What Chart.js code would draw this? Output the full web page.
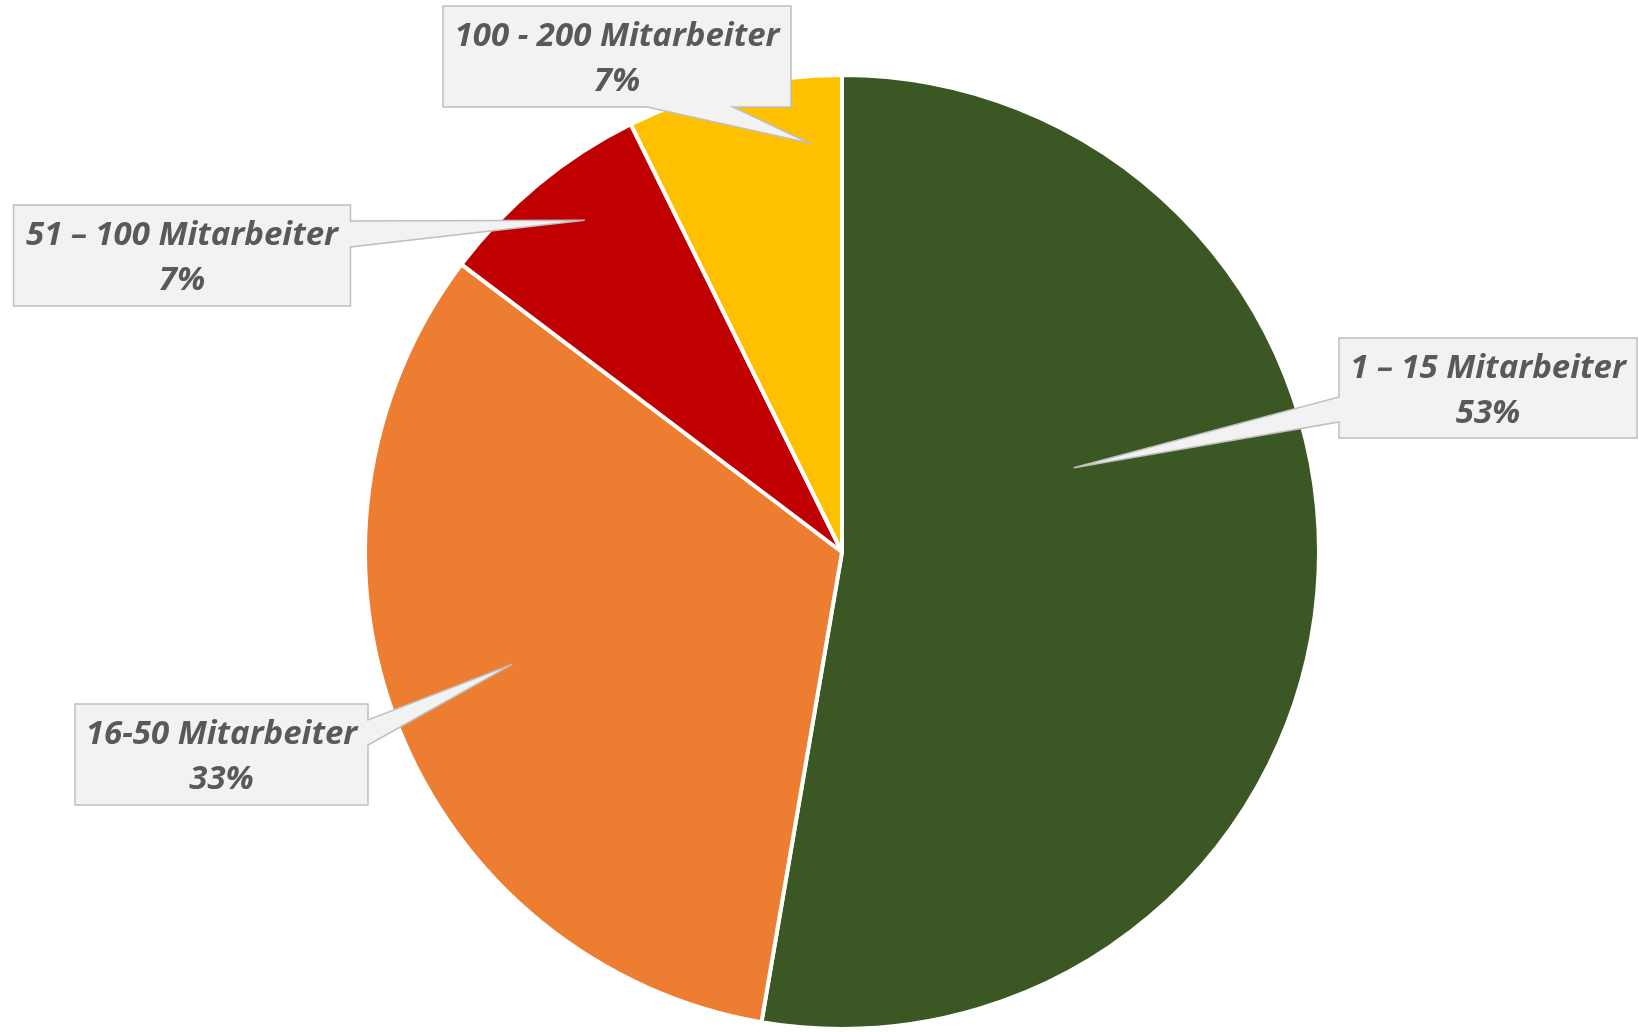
<!DOCTYPE html>
<html>
<head>
<meta charset="utf-8">
<script src="https://cdn.jsdelivr.net/npm/chart.js@4.4.1/dist/chart.umd.min.js"></script>
<style>
  html, body { margin: 0; padding: 0; background: #ffffff; }
  #wrap { width: 1639px; height: 1032px; position: relative; }
</style>
</head>
<body>
<div id="wrap"><canvas id="pie"></canvas></div>
<script>
// Chart data
const categories = ['1 – 15 Mitarbeiter', '16-50 Mitarbeiter', '51 – 100 Mitarbeiter', '100 - 200 Mitarbeiter'];
const shares = [52.7, 32.6, 7.4, 7.3];
const percentLabels = ['53%', '33%', '7%', '7%'];
const sliceColors = ['#3a5724', '#ed7d31', '#c00000', '#ffc000'];

// Callout boxes (Excel style data callouts), one per slice
// box: [x, y, w, h]; side: where the pointer leaves the box; base: pointer root on that side
// tip: [angle clockwise from 12 o'clock in degrees, fraction of radius]
const callouts = [
  { box: [1339, 338, 298, 100], side: 'left', base: [397, 422], tip: [70, 0.517] },
  { box: [75, 704, 293, 101], side: 'right', base: [720, 745], tip: [251.2, 0.73] },
  { box: [13.5, 205, 337, 101], side: 'right', base: [221, 247], tip: [322.2, 0.88] },
  { box: [443, 6, 348, 101], side: 'bottom', base: [647, 733], tip: [355.4, 0.86] }
];

const calloutPlugin = {
  id: 'callouts',
  afterDatasetsDraw(chart) {
    const ctx = chart.ctx;
    const meta = chart.getDatasetMeta(0);
    meta.data.forEach((arc, i) => {
      const c = callouts[i];
      if (!c) return;
      const [x, y, w, h] = c.box;
      const L = x, T = y, R = x + w, B = y + h;
      const a = c.tip[0] * Math.PI / 180;
      const r = arc.outerRadius * c.tip[1];
      const tx = arc.x + Math.sin(a) * r;
      const ty = arc.y - Math.cos(a) * r;
      const [b0, b1] = c.base;

      ctx.save();
      ctx.beginPath();
      ctx.moveTo(L, T);
      if (c.side === 'top') { ctx.lineTo(b0, T); ctx.lineTo(tx, ty); ctx.lineTo(b1, T); }
      ctx.lineTo(R, T);
      if (c.side === 'right') { ctx.lineTo(R, b0); ctx.lineTo(tx, ty); ctx.lineTo(R, b1); }
      ctx.lineTo(R, B);
      if (c.side === 'bottom') { ctx.lineTo(b1, B); ctx.lineTo(tx, ty); ctx.lineTo(b0, B); }
      ctx.lineTo(L, B);
      if (c.side === 'left') { ctx.lineTo(L, b1); ctx.lineTo(tx, ty); ctx.lineTo(L, b0); }
      ctx.closePath();
      ctx.fillStyle = '#f2f2f2';
      ctx.fill();
      ctx.lineWidth = 1.5;
      ctx.strokeStyle = '#bfbfbf';
      ctx.lineJoin = 'miter';
      ctx.stroke();

      // two-line label
      ctx.fillStyle = '#595959';
      ctx.font = 'italic 700 33px "Open Sans"';
      ctx.textAlign = 'center';
      ctx.textBaseline = 'middle';
      const cx = L + w / 2;
      ctx.fillText(categories[i], cx, T + 31);
      ctx.fillText(percentLabels[i], cx, T + 76);
      ctx.restore();
    });
  }
};

new Chart(document.getElementById('pie'), {
  type: 'pie',
  data: {
    labels: categories,
    datasets: [{
      data: shares,
      backgroundColor: sliceColors,
      borderColor: '#ffffff',
      borderWidth: 4
    }]
  },
  options: {
    responsive: true,
    maintainAspectRatio: false,
    animation: false,
    layout: { padding: { top: 73, bottom: 1, left: 45, right: 0 } },
    plugins: {
      legend: { display: false },
      tooltip: { enabled: false }
    }
  },
  plugins: [calloutPlugin]
});
</script>
</body>
</html>
